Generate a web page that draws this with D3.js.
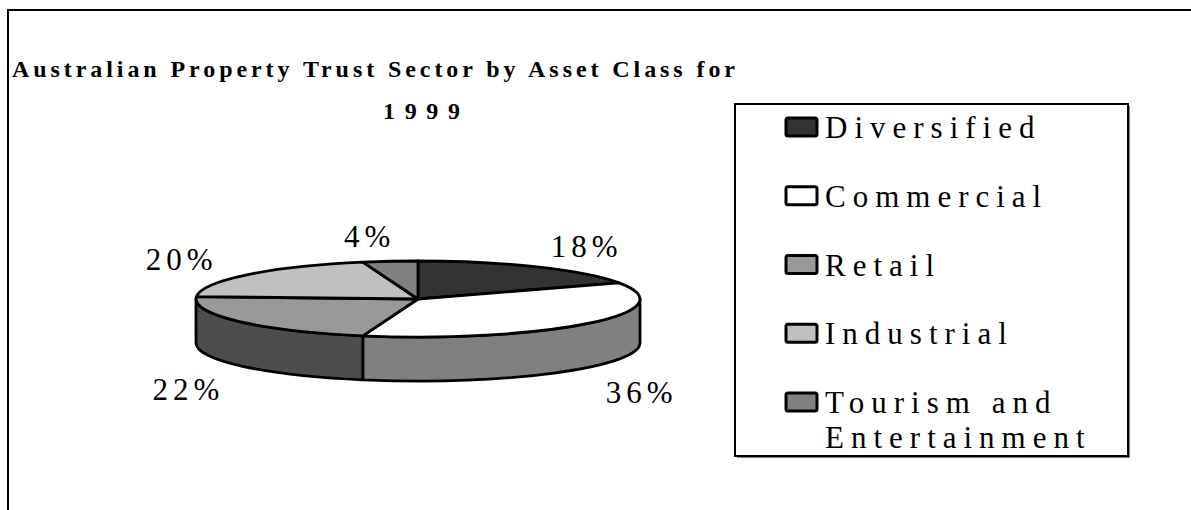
<!DOCTYPE html>
<html>
<head>
<meta charset="utf-8">
<script src="https://cdn.jsdelivr.net/npm/d3@7"></script>
<style>
  body { margin: 0; background: #fff; }
  text { font-family: "Liberation Serif", "Times New Roman", serif; fill: #000; }
</style>
</head>
<body>
<svg id="canvas" width="1191" height="510"></svg>
<script>
let titleLines = ["Australian Property Trust Sector by Asset Class for", "1999"]
let categories = ["Diversified", "Commercial", "Retail", "Industrial", "Tourism and Entertainment"]
let shares = [18, 36, 22, 20, 4]
let shareLabels = ["18%", "36%", "22%", "20%", "4%"]
let fills = ["#333333", "#ffffff", "#999999", "#c0c0c0", "#808080"]

let svg = d3.select("#canvas")

// chart area frame (only top and left edges are inside the picture)
svg.append("rect")
    .attr("x", 8).attr("y", 10)
    .attr("width", 1400).attr("height", 700)
    .attr("fill", "none").attr("stroke", "#000").attr("stroke-width", 2)

// title, stretched like the old excel rendering
svg.append("text")
    .attr("x", 12).attr("y", 77)
    .attr("font-size", 24).attr("font-weight", "bold")
    .attr("textLength", 723).attr("lengthAdjust", "spacing")
    .text(titleLines[0])
svg.append("text")
    .attr("x", 383).attr("y", 119)
    .attr("font-size", 24).attr("font-weight", "bold")
    .attr("textLength", 77).attr("lengthAdjust", "spacing")
    .text(titleLines[1])

// 3d pie
let cx = 418, cy = 299, rx = 222, ry = 38, depth = 44

let pt = (a, dy) => [cx + rx * Math.sin(a), cy - ry * Math.cos(a) + (dy || 0)]

let shade = (c) => {
    let col = d3.rgb(c)
    return d3.rgb(col.r * 0.5, col.g * 0.5, col.b * 0.5).formatHex()
}

let pie = d3.pie().sort(null).value((d) => d.value)
let slices = pie(categories.map((name, i) => ({ name: name, value: shares[i], fill: fills[i], label: shareLabels[i] })))

let pieG = svg.append("g")

// side walls, only the front half (pi/2 .. 3pi/2) can be seen
slices.forEach((s) => {
    let a0 = Math.max(s.startAngle, Math.PI / 2)
    let a1 = Math.min(s.endAngle, 3 * Math.PI / 2)
    if (a1 <= a0) return
    let p0 = pt(a0), p1 = pt(a1), q1 = pt(a1, depth), q0 = pt(a0, depth)
    let large = (a1 - a0) > Math.PI ? 1 : 0
    let d = "M" + p0 + "A" + rx + "," + ry + " 0 " + large + " 1 " + p1 +
            "L" + q1 + "A" + rx + "," + ry + " 0 " + large + " 0 " + q0 + "Z"
    pieG.append("path")
        .attr("d", d)
        .attr("fill", shade(s.data.fill))
        .attr("stroke", "#000").attr("stroke-width", 2.8)
        .attr("stroke-linejoin", "round")
})

// top face
slices.forEach((s) => {
    let p0 = pt(s.startAngle), p1 = pt(s.endAngle)
    let large = (s.endAngle - s.startAngle) > Math.PI ? 1 : 0
    let d = "M" + cx + "," + cy + "L" + p0 + "A" + rx + "," + ry + " 0 " + large + " 1 " + p1 + "Z"
    pieG.append("path")
        .attr("d", d)
        .attr("fill", s.data.fill)
        .attr("stroke", "#000").attr("stroke-width", 2.8)
        .attr("stroke-linejoin", "round")
})

// data labels outside the pie; the ones in front sit below the side wall
slices.forEach((s) => {
    let mid = (s.startAngle + s.endAngle) / 2
    let front = Math.cos(mid) < 0
    let lx = cx + (front ? 287 : 310) * Math.sin(mid)
    let ly = cy - 63 * Math.cos(mid) + 11
    if (front) ly += depth + 9
    // small slices near the top get pushed a bit further out
    if (s.endAngle - s.startAngle < 0.5) lx -= 12
    pieG.append("text")
        .attr("x", lx + 2.5).attr("y", ly)
        .attr("text-anchor", "middle")
        .attr("font-size", 31)
        .attr("letter-spacing", 5)
        .text(s.data.label)
})

// legend
let legX = 735, legY = 104, legW = 393, legH = 352
svg.append("rect")
    .attr("x", legX + 2).attr("y", legY + 2)
    .attr("width", legW).attr("height", legH)
    .attr("fill", "#808080")
svg.append("rect")
    .attr("x", legX).attr("y", legY)
    .attr("width", legW).attr("height", legH)
    .attr("fill", "#fff").attr("stroke", "#000").attr("stroke-width", 2)

let rowY = d3.scalePoint().domain(categories).range([127, 402])

categories.forEach((name, i) => {
    let y = rowY(name)
    svg.append("rect")
        .attr("x", 786).attr("y", y - 9)
        .attr("width", 31).attr("height", 18)
        .attr("rx", 2)
        .attr("fill", fills[i]).attr("stroke", "#000").attr("stroke-width", 3)
    let t = svg.append("text")
        .attr("x", 825).attr("y", y + 11)
        .attr("font-size", 31)
        .attr("letter-spacing", 7)
    // wrap words that do not fit inside the legend box
    let words = name.split(" "), line = []
    let tspan = t.append("tspan").attr("x", 825).attr("dy", 0)
    words.forEach((w) => {
        line.push(w)
        tspan.text(line.join(" "))
        if (tspan.node().getComputedTextLength() > legX + legW - 830 && line.length > 1) {
            line.pop()
            tspan.text(line.join(" "))
            line = [w]
            tspan = t.append("tspan").attr("x", 825).attr("dy", 35).text(w)
        }
    })
})
</script>
</body>
</html>
